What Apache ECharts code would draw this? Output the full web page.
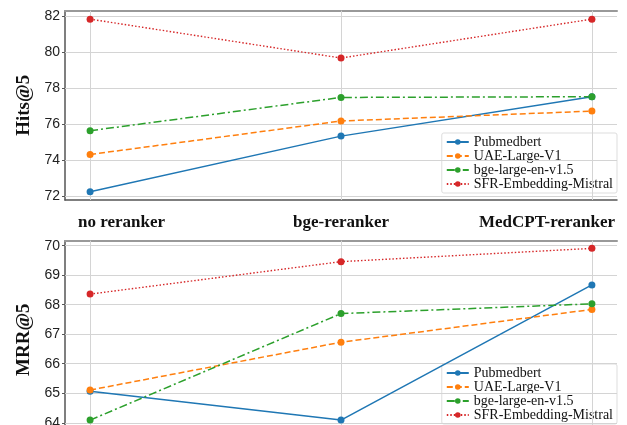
<!DOCTYPE html>
<html>
<head>
<meta charset="utf-8">
<script src="https://cdn.jsdelivr.net/npm/echarts@6/dist/echarts.min.js"></script>
<style>html,body{margin:0;padding:0;background:#fff}#c{width:627px;height:425px}</style>
</head>
<body>
<div id="c"></div>
<script>
const categories = ['no reranker', 'bge-reranker', 'MedCPT-reranker'];
const seriesNames = ['Pubmedbert', 'UAE-Large-V1', 'bge-large-en-v1.5', 'SFR-Embedding-Mistral'];
const hitsPubmedbert = [72.24, 75.33, 77.52];
const hitsUAE = [74.31, 76.17, 76.72];
const hitsBge = [75.63, 77.48, 77.52];
const hitsSFR = [81.83, 79.67, 81.83];
const mrrPubmedbert = [65.07, 64.09, 68.67];
const mrrUAE = [65.11, 66.73, 67.84];
const mrrBge = [64.09, 67.70, 68.03];
const mrrSFR = [68.36, 69.46, 69.91];
const hitsTicks = [72, 74, 76, 78, 80, 82];
const mrrTicks = [64, 65, 66, 67, 68, 69, 70];

const colors = ['#1f77b4', '#ff7f0e', '#2ca02c', '#d62728'];
const dashTypes = ['solid', [6, 3], [8, 3, 2, 3], [1.5, 2]];
const serif = 'Liberation Serif';
const sans = 'Liberation Sans';

function pts(arr) { return arr.map((v, i) => [i, v]); }

function mkSeries(vals, gi) {
  return vals.map((arr, k) => ({
    name: seriesNames[k], type: 'line', xAxisIndex: gi * 2, yAxisIndex: gi,
    data: pts(arr), symbol: 'circle', symbolSize: 7, z: 5,
    itemStyle: { color: colors[k] },
    lineStyle: { color: colors[k], width: k === 3 ? 1.4 : 1.5, type: dashTypes[k] }
  }));
}

function gridSeries(gi, ticks) {
  return {
    type: 'line', xAxisIndex: gi * 2, yAxisIndex: gi, data: [], silent: true, z: 1,
    markLine: {
      silent: true, symbol: 'none', animation: false,
      label: { show: false },
      lineStyle: { color: '#d4d4d4', width: 1, type: 'solid' },
      data: categories.map((c, i) => ({ xAxis: i })).concat(ticks.map(t => ({ yAxis: t })))
    }
  };
}

function xAxes(gi, showBottom) {
  return [
    { type: 'value', gridIndex: gi, min: -0.1, max: 2.1, position: 'bottom',
      axisLine: { show: showBottom, onZero: false, lineStyle: { color: '#555', width: 1.5 } },
      axisTick: { show: false }, axisLabel: { show: false }, splitLine: { show: false } },
    { type: 'value', gridIndex: gi, min: -0.1, max: 2.1, position: 'top',
      axisLine: { show: true, onZero: false, lineStyle: { color: '#999', width: 2 } },
      axisTick: { show: false }, axisLabel: { show: false }, splitLine: { show: false } }
  ];
}

function yAxis(gi, min, max, ticks, name) {
  return {
    type: 'value', gridIndex: gi, min: min, max: max,
    name: name, nameLocation: 'middle', nameGap: 31, nameRotate: 90,
    nameTextStyle: { fontFamily: serif, fontWeight: 'bold', fontSize: 19, color: '#111' },
    axisLine: { show: true, onZero: false, lineStyle: { color: '#555', width: 1.5 } },
    axisTick: { show: true, length: 3, customValues: ticks, lineStyle: { color: '#555' } },
    axisLabel: { customValues: ticks, margin: 5, fontFamily: sans, fontSize: 14, color: '#222' },
    splitLine: { show: false }
  };
}

function legend(top) {
  return {
    data: seriesNames, orient: 'vertical', right: 10, top: top,
    itemWidth: 22, itemHeight: 7, itemGap: 0,
    backgroundColor: '#fff', borderColor: '#ddd', borderWidth: 1, borderRadius: 2,
    padding: [2, 4, 2, 4],
    textStyle: { fontFamily: serif, fontSize: 14, color: '#111', lineHeight: 14 }
  };
}

const catStyle = { fontFamily: serif, fontWeight: 'bold', fontSize: 17, color: '#111' };

const option = {
  animation: false,
  backgroundColor: '#fff',
  title: [
    { text: categories[0], left: 78, top: 214, padding: 0, textStyle: catStyle },
    { text: categories[1], left: 341, textAlign: 'center', top: 214, padding: 0, textStyle: catStyle },
    { text: categories[2], right: 12, top: 214, padding: 0, textStyle: catStyle }
  ],
  grid: [
    { left: 65, right: 10, top: 10.7, height: 189.3, outerBoundsMode: 'none', containLabel: false },
    { left: 65, right: 10, top: 240.7, height: 198, outerBoundsMode: 'none', containLabel: false }
  ],
  legend: [legend(133), legend(364)],
  xAxis: xAxes(0, true).concat(xAxes(1, false)),
  yAxis: [
    yAxis(0, 71.78, 82.3, hitsTicks, 'Hits@5'),
    yAxis(1, 63.46, 70.17, mrrTicks, 'MRR@5')
  ],
  series: [gridSeries(0, hitsTicks), gridSeries(1, mrrTicks)]
    .concat(mkSeries([hitsPubmedbert, hitsUAE, hitsBge, hitsSFR], 0))
    .concat(mkSeries([mrrPubmedbert, mrrUAE, mrrBge, mrrSFR], 1))
};

const chart = echarts.init(document.getElementById('c'), null, { renderer: 'canvas' });
chart.setOption(option);
</script>
</body>
</html>
